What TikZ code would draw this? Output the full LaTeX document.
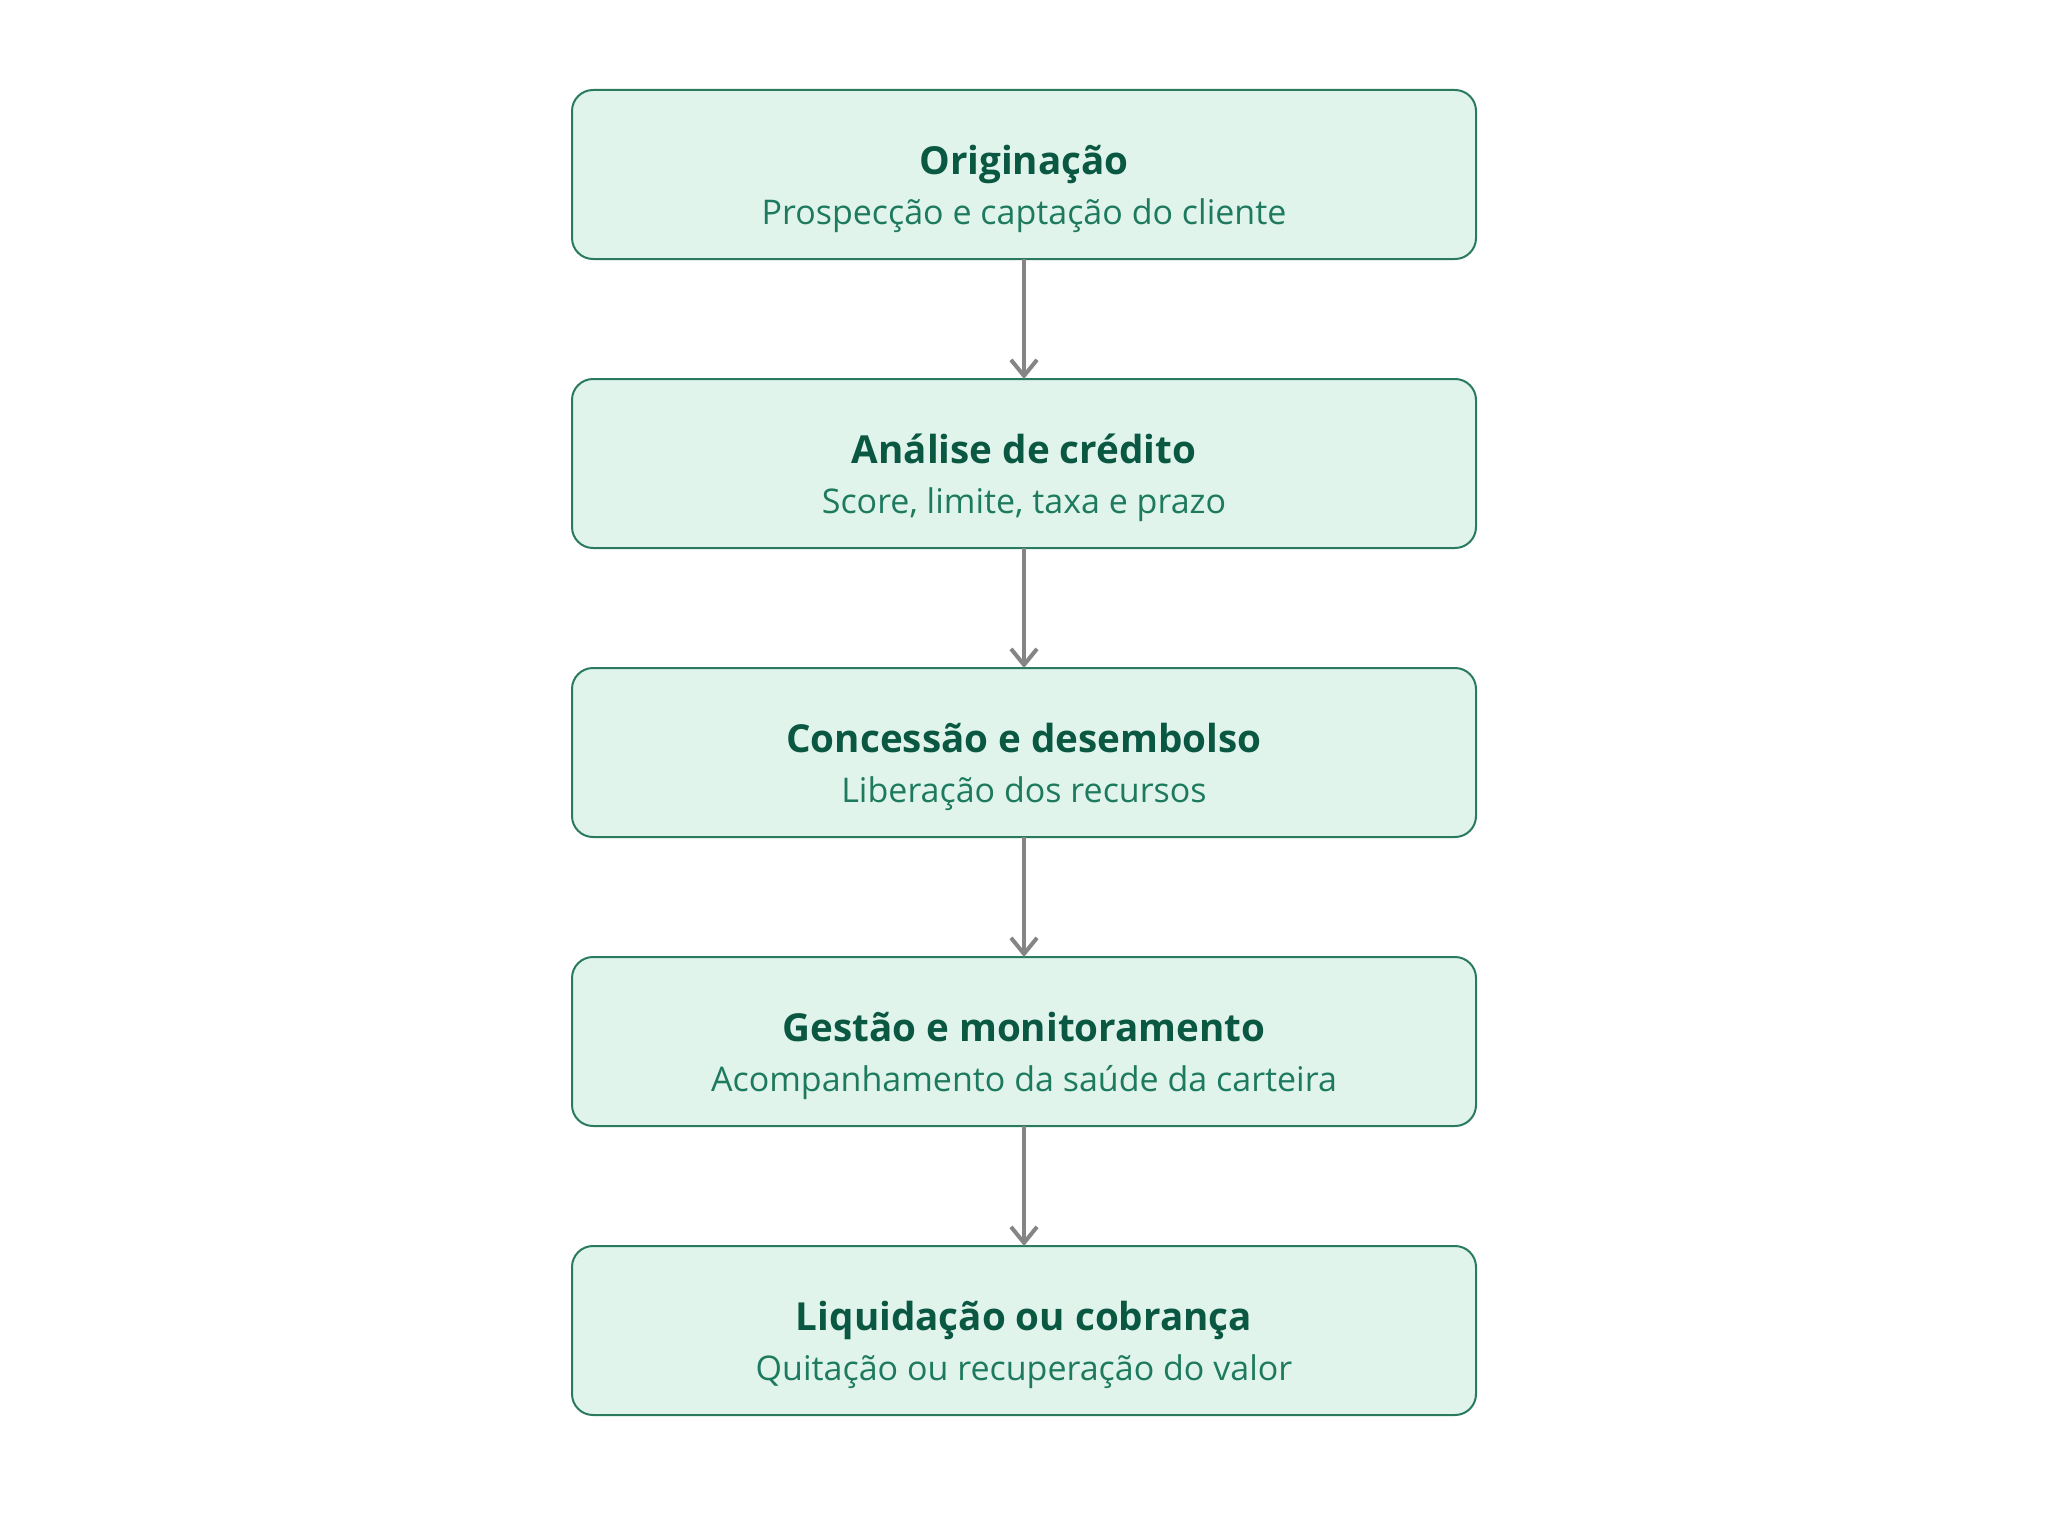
\documentclass[tikz,border=0pt]{standalone}
\usepackage{fontspec}
\setmainfont{Open Sans}
\usetikzlibrary{arrows.meta}
\definecolor{boxfill}{HTML}{E0F4EC}
\definecolor{boxline}{HTML}{2A7A60}
\definecolor{titlecol}{HTML}{0B5842}
\definecolor{subcol}{HTML}{1E7A5E}
\definecolor{arrowcol}{HTML}{858585}
\tikzset{
  stage/.style={draw=boxline, fill=boxfill, line width=1pt, rounded corners=10.5pt,
    minimum width=452pt, minimum height=84.5pt, inner sep=0pt, outer sep=0pt},
  titletext/.style={anchor=base, inner sep=0pt, text=titlecol, font=\fontsize{19.3pt}{23pt}\selectfont\bfseries},
  subtext/.style={anchor=base, inner sep=0pt, text=subcol, font=\fontsize{17pt}{20pt}\selectfont},
  flow/.style={draw=arrowcol, line width=2pt, -{Straight Barb[length=8pt, width=13pt, line width=2pt]}}
}
\begin{document}
\begin{tikzpicture}[x=0.5pt,y=-0.5pt]
\useasboundingbox (0,0) rectangle (2048,1536);
\node[stage] (b1) at (1024,174.5) {};
\node[stage] (b2) at (1024,463.5) {};
\node[stage] (b3) at (1024,752.5) {};
\node[stage] (b4) at (1024,1041.5) {};
\node[stage] (b5) at (1024,1330.5) {};
\node[titletext] (t1) at (1024,174) {Originação};
\node[subtext] (s1) at (1024,224) {Prospecção e captação do cliente};
\node[titletext] (t2) at (1024,463) {Análise de crédito};
\node[subtext] (s2) at (1024,513) {Score, limite, taxa e prazo};
\node[titletext] (t3) at (1024,752) {Concessão e desembolso};
\node[subtext] (s3) at (1024,802) {Liberação dos recursos};
\node[titletext] (t4) at (1024,1041) {Gestão e monitoramento};
\node[subtext] (s4) at (1024,1091) {Acompanhamento da saúde da carteira};
\node[titletext] (t5) at (1024,1330) {Liquidação ou cobrança};
\node[subtext] (s5) at (1024,1380) {Quitação ou recuperação do valor};
\draw[flow] (b1.south) -- (b2.north);
\draw[flow] (b2.south) -- (b3.north);
\draw[flow] (b3.south) -- (b4.north);
\draw[flow] (b4.south) -- (b5.north);
\end{tikzpicture}
\end{document}
